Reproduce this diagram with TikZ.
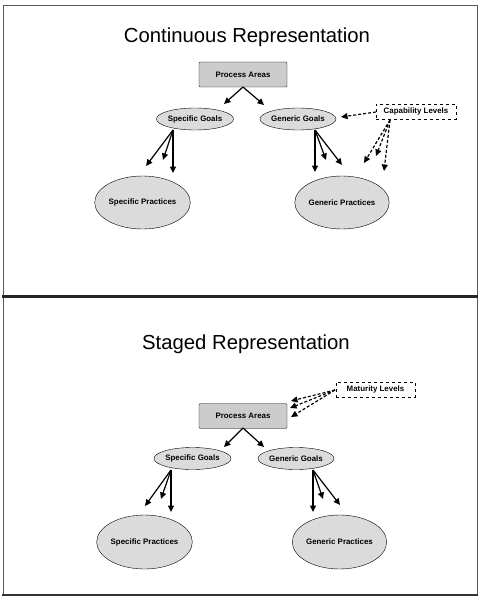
\documentclass[tikz,border=0pt]{standalone}
\usepackage{fontspec}
\setmainfont{Liberation Sans}
\usetikzlibrary{arrows.meta,shapes.geometric}
\begin{document}
\begin{tikzpicture}[x=1pt,y=-1pt,
  lbl/.style={font=\bfseries\fontsize{7.9}{9}\selectfont},
  titl/.style={font=\fontsize{20.3}{24}\selectfont, inner sep=0pt},
  pabox/.style={lbl, draw, fill=gray!40, rounded corners=1.2pt, minimum width=88, minimum height=25, inner sep=0pt},
  goal/.style={lbl, ellipse, draw, fill=gray!28, minimum width=76, minimum height=22, inner sep=0pt},
  prac/.style={lbl, ellipse, draw, fill=gray!28, minimum height=53, inner sep=0pt},
  lvl/.style={lbl, draw, dashed, fill=white, minimum height=15, inner sep=0pt},
  arr/.style={-{Triangle[length=6.5pt,width=6pt]}, line width=1.2pt},
  darr/.style={arr, dash pattern=on 3pt off 2pt}]
\useasboundingbox (0,0) rectangle (481,604);
% frame
\draw[gray!70!black, line width=0.8pt] (3,296) -- (3,5) -- (477,5) -- (477,296);
\draw[gray!70!black, line width=0.8pt] (3,296) -- (3,595);
\draw[gray!70!black, line width=0.8pt] (477,296) -- (477,595);
\draw[black!85, line width=2.4pt] (2,296.5) -- (478,296.5);
\draw[black!80, line width=1.6pt] (2,595) -- (478,595);

% ---------- top: continuous ----------
\node[titl] (t1) at (247,37) {Continuous Representation};
\node[pabox] (pa1) at (243,74.5) {Process Areas};
\node[goal] (sg1) at (195,119) {Specific Goals};
\node[goal] (gg1) at (298,119) {Generic Goals};
\node[lvl, minimum width=80] (cl1) at (416,111.5) {Capability Levels};
\node[prac, minimum width=74] (sp1) at (142.5,202.5) {Specific Practices};
\node[prac, minimum width=82] (gp1) at (342,202.5) {Generic Practices};

\coordinate (pa1s) at (243,87);
\coordinate (a1) at (224,104);
\coordinate (a2) at (264,105);
\draw[arr] (pa1s) -- (a1);
\draw[arr] (pa1s) -- (a2);

\coordinate (sg1s) at (173,130);
\coordinate (b1) at (146,166);
\coordinate (b2) at (163,160);
\coordinate (b3) at (173,173);
\draw[arr] (sg1s) -- (b1);
\draw[arr] (sg1s) -- (b2);
\draw[arr] (sg1s) -- (b3);

\coordinate (gg1s) at (315,130);
\coordinate (c1) at (315,172);
\coordinate (c2) at (326,160);
\coordinate (c3) at (342,165);
\draw[arr] (gg1s) -- (c1);
\draw[arr] (gg1s) -- (c2);
\draw[arr] (gg1s) -- (c3);

\coordinate (cl1w) at (376,112);
\coordinate (d0) at (341,117);
\draw[darr] (cl1w) -- (d0);
\coordinate (cl1s) at (390,120);
\coordinate (d1) at (364,163);
\coordinate (d2) at (376,156);
\coordinate (d3) at (384,171);
\draw[darr] (cl1s) -- (d1);
\draw[darr] (cl1s) -- (d2);
\draw[darr] (cl1s) -- (d3);

% ---------- bottom: staged ----------
\node[titl] (t2) at (246,344) {Staged Representation};
\node[lvl, minimum width=79] (ml2) at (375.5,389.5) {Maturity Levels};
\node[pabox] (pa2) at (243,416) {Process Areas};
\node[goal, minimum width=77] (sg2) at (192.5,458.5) {Specific Goals};
\node[goal] (gg2) at (296,458.5) {Generic Goals};
\node[prac, minimum width=83, minimum height=54] (sp2) at (144.5,542) {Specific Practices};
\node[prac, minimum width=83, minimum height=54] (gp2) at (339.5,542) {Generic Practices};

\coordinate (ml2w) at (335,390);
\coordinate (e1) at (291,401);
\coordinate (e2) at (290,408);
\coordinate (e3) at (291,417);
\draw[darr] (ml2w) -- (e1);
\draw[darr] (ml2w) -- (e2);
\draw[darr] (ml2w) -- (e3);

\coordinate (pa2s) at (243,428);
\coordinate (f1) at (224,447);
\coordinate (f2) at (264,447);
\draw[arr] (pa2s) -- (f1);
\draw[arr] (pa2s) -- (f2);

\coordinate (sg2s) at (171,470);
\coordinate (g1) at (145,506);
\coordinate (g2) at (161,499);
\coordinate (g3) at (171,512);
\draw[arr] (sg2s) -- (g1);
\draw[arr] (sg2s) -- (g2);
\draw[arr] (sg2s) -- (g3);

\coordinate (gg2s) at (313,470);
\coordinate (h1) at (313,512);
\coordinate (h2) at (323,499);
\coordinate (h3) at (340,505);
\draw[arr] (gg2s) -- (h1);
\draw[arr] (gg2s) -- (h2);
\draw[arr] (gg2s) -- (h3);
\end{tikzpicture}
\end{document}
